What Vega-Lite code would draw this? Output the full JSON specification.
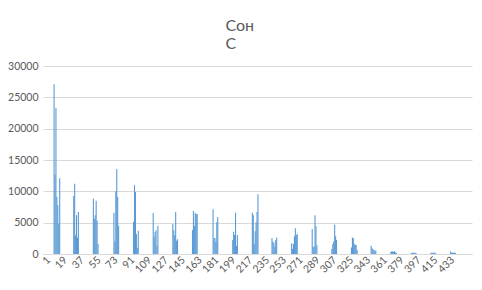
{
  "$schema": "https://vega.github.io/schema/vega-lite/v6.json",
  "width": 429,
  "height": 188,
  "autosize": {"type": "none"},
  "padding": {"left": 43, "top": 66, "right": 10, "bottom": 36},
  "background": "white",
  "title": {
    "text": ["Сон", "С"],
    "anchor": "middle",
    "align": "left",
    "dx": -32,
    "offset": 9,
    "font": "Lato",
    "fontSize": 16,
    "fontWeight": "normal",
    "lineHeight": 18,
    "color": "#595959"
  },
  "data": {"values": [
    {"i": 7, "v": 27100}, {"i": 8, "v": 12700}, {"i": 9, "v": 23300}, {"i": 10, "v": 9100}, {"i": 11, "v": 7800}, {"i": 12, "v": 4800}, {"i": 13, "v": 12100},
    {"i": 28, "v": 9250}, {"i": 29, "v": 11200}, {"i": 30, "v": 3000}, {"i": 31, "v": 6200}, {"i": 32, "v": 2600}, {"i": 33, "v": 6700},
    {"i": 49, "v": 8800}, {"i": 50, "v": 5600}, {"i": 51, "v": 6200}, {"i": 52, "v": 8500}, {"i": 53, "v": 5300}, {"i": 54, "v": 1600},
    {"i": 71, "v": 6600}, {"i": 72, "v": 2000}, {"i": 73, "v": 10000}, {"i": 74, "v": 13550}, {"i": 75, "v": 9100}, {"i": 76, "v": 4500},
    {"i": 92, "v": 5150}, {"i": 93, "v": 11000}, {"i": 94, "v": 9900}, {"i": 95, "v": 3200}, {"i": 96, "v": 1000}, {"i": 97, "v": 3700},
    {"i": 113, "v": 6550}, {"i": 114, "v": 2750}, {"i": 115, "v": 3500}, {"i": 116, "v": 3800}, {"i": 117, "v": 1300}, {"i": 118, "v": 4450},
    {"i": 134, "v": 4800}, {"i": 135, "v": 3800}, {"i": 136, "v": 3000}, {"i": 137, "v": 6700}, {"i": 138, "v": 2100}, {"i": 139, "v": 2350},
    {"i": 155, "v": 3800}, {"i": 156, "v": 6850}, {"i": 157, "v": 4450}, {"i": 158, "v": 6550}, {"i": 159, "v": 6400}, {"i": 160, "v": 6400},
    {"i": 177, "v": 7150}, {"i": 178, "v": 2550}, {"i": 179, "v": 2550}, {"i": 180, "v": 1900}, {"i": 181, "v": 5100}, {"i": 182, "v": 5900},
    {"i": 198, "v": 2250}, {"i": 199, "v": 3550}, {"i": 200, "v": 3050}, {"i": 201, "v": 6600}, {"i": 202, "v": 1300}, {"i": 203, "v": 3050},
    {"i": 219, "v": 6600}, {"i": 220, "v": 6200}, {"i": 221, "v": 1600}, {"i": 222, "v": 3650}, {"i": 223, "v": 5050}, {"i": 224, "v": 6700}, {"i": 225, "v": 9550},
    {"i": 240, "v": 2500}, {"i": 241, "v": 2000}, {"i": 242, "v": 1800}, {"i": 243, "v": 1150}, {"i": 244, "v": 2250}, {"i": 245, "v": 2650},
    {"i": 261, "v": 1700}, {"i": 262, "v": 800}, {"i": 263, "v": 1600}, {"i": 264, "v": 2850}, {"i": 265, "v": 4100}, {"i": 266, "v": 3050}, {"i": 267, "v": 3200},
    {"i": 283, "v": 4000}, {"i": 284, "v": 1150}, {"i": 285, "v": 1150}, {"i": 286, "v": 6200}, {"i": 287, "v": 4450}, {"i": 288, "v": 1400},
    {"i": 304, "v": 800}, {"i": 305, "v": 1600}, {"i": 306, "v": 2000}, {"i": 307, "v": 4650}, {"i": 308, "v": 2850}, {"i": 309, "v": 2250},
    {"i": 325, "v": 1050}, {"i": 326, "v": 2650}, {"i": 327, "v": 2500}, {"i": 328, "v": 1600}, {"i": 329, "v": 1450}, {"i": 330, "v": 1450}, {"i": 331, "v": 650},
    {"i": 346, "v": 1300}, {"i": 347, "v": 900}, {"i": 348, "v": 750}, {"i": 349, "v": 650}, {"i": 350, "v": 550}, {"i": 351, "v": 500},
    {"i": 367, "v": 300}, {"i": 368, "v": 450}, {"i": 369, "v": 450}, {"i": 370, "v": 300}, {"i": 371, "v": 450}, {"i": 372, "v": 250}, {"i": 373, "v": 150},
    {"i": 389, "v": 150}, {"i": 390, "v": 200}, {"i": 391, "v": 200}, {"i": 392, "v": 200}, {"i": 393, "v": 200}, {"i": 394, "v": 150},
    {"i": 410, "v": 200}, {"i": 411, "v": 200}, {"i": 412, "v": 200}, {"i": 413, "v": 200}, {"i": 414, "v": 200}, {"i": 415, "v": 150},
    {"i": 431, "v": 400}, {"i": 432, "v": 200}, {"i": 433, "v": 200}, {"i": 434, "v": 200}, {"i": 435, "v": 200}, {"i": 436, "v": 200}
  ]},
  "mark": {"type": "bar", "size": 1.1, "color": "#5B9BD5"},
  "encoding": {
    "x": {
      "field": "i",
      "type": "quantitative",
      "scale": {"domain": [0.5, 448.5], "nice": false, "zero": false},
      "axis": {
        "title": null,
        "values": [1, 19, 37, 55, 73, 91, 109, 127, 145, 163, 181, 199, 217, 235, 253, 271, 289, 307, 325, 343, 361, 379, 397, 415, 433],
        "labelAngle": -45,
        "labelAlign": "right",
        "labelBaseline": "middle",
        "labelFont": "Lato",
        "labelFontSize": 10.5,
        "labelColor": "#595959",
        "labelPadding": 4,
        "ticks": false,
        "grid": false,
        "domainColor": "#D9D9D9",
        "labelOverlap": false
      }
    },
    "y": {
      "field": "v",
      "type": "quantitative",
      "scale": {"domain": [0, 30000], "nice": false},
      "axis": {
        "title": null,
        "values": [0, 5000, 10000, 15000, 20000, 25000, 30000],
        "format": "d",
        "labelFont": "Lato",
        "labelFontSize": 10.5,
        "labelColor": "#595959",
        "labelPadding": 5,
        "ticks": false,
        "domain": false,
        "gridColor": "#D9D9D9"
      }
    }
  },
  "config": {"view": {"stroke": null}}
}
